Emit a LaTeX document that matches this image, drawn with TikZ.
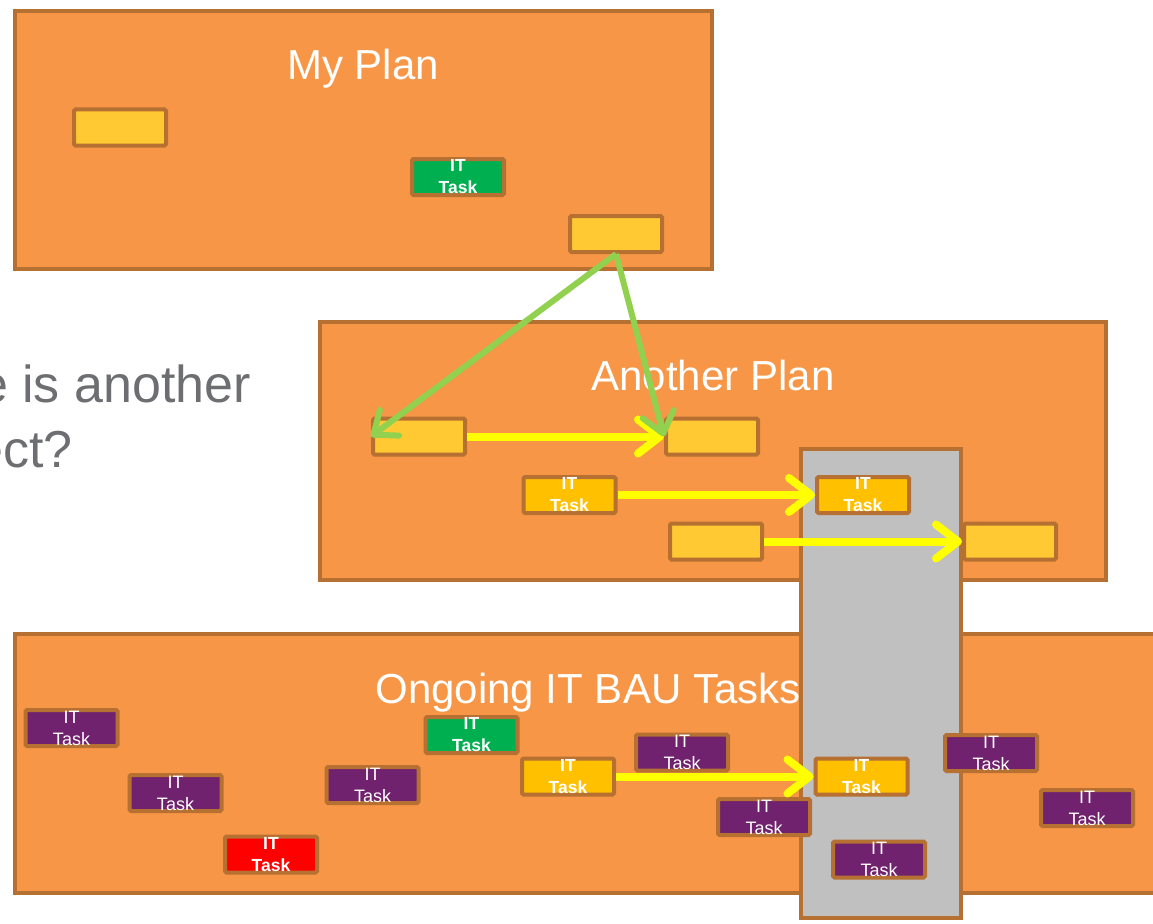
\documentclass[tikz,border=0pt]{standalone}
\usepackage{fontspec}
\setmainfont{Liberation Sans}
\usetikzlibrary{arrows.meta}
\definecolor{panel}{RGB}{247,150,70}
\definecolor{edge}{RGB}{182,112,50}
\definecolor{gold}{RGB}{255,201,51}
\definecolor{amber}{RGB}{255,192,0}
\definecolor{okgreen}{RGB}{0,176,80}
\definecolor{plum}{RGB}{112,34,110}
\definecolor{alert}{RGB}{255,0,0}
\definecolor{column}{RGB}{192,192,192}
\definecolor{link}{RGB}{146,208,80}
\definecolor{flow}{RGB}{255,255,0}
\definecolor{note}{RGB}{109,110,113}
\tikzset{
  panelbox/.style={draw=edge, fill=panel, line width=4pt, inner sep=0pt},
  paneltitle/.style={text=white, font=\fontsize{42}{50}\selectfont, inner sep=0pt, anchor=base},
  taskbox/.style={draw=edge, line width=4pt, rounded corners=1.5pt,
    minimum width=92pt, minimum height=36pt, inner sep=0pt,
    text=white, align=center, font=\fontsize{18}{22}\selectfont},
  plain/.style={taskbox, fill=gold},
  ittask/.style={taskbox, font=\fontsize{17.5}{22}\selectfont\bfseries},
  bau/.style={taskbox, fill=plum},
  flowarrow/.style={draw=flow, line width=8pt,
    -{Straight Barb[length=22pt, width=34pt, round]}},
  linkarrow/.style={draw=link, line width=6pt,
    -{Straight Barb[length=20pt, width=32pt, round]}},
}
\begin{document}
\begin{tikzpicture}[x=1pt, y=-1pt]
\useasboundingbox (0,0) rectangle (1153,923);

% question text, partly outside the page
\node[text=note, font=\fontsize{52}{64}\selectfont, anchor=base east, inner sep=0pt] (q1) at (251,402) {e is another};
\node[text=note, font=\fontsize{52}{64}\selectfont, anchor=base east, inner sep=0pt] (q2) at (73,467) {ect?};

% My Plan
\node[panelbox, minimum width=697pt, minimum height=258pt] (myplan) at (363.5,140) {};
\node[paneltitle] (myplanT) at (363,80) {My Plan};
\node[plain] (mpA) at (120,127.5) {};
\node[ittask, fill=okgreen] (mpIT) at (458,177) {IT\\Task};
\node[plain] (mpB) at (616,234) {};

% Another Plan
\node[panelbox, minimum width=786pt, minimum height=258pt] (another) at (713,451) {};
\node[paneltitle] (anotherT) at (713,390) {Another Plan};

% Ongoing IT BAU Tasks
\node[panelbox, minimum width=1160pt, minimum height=259pt] (bau) at (595,763.5) {};
\node[paneltitle] (bauT) at (588,703) {Ongoing IT BAU Tasks};

% shared column
\node[panelbox, fill=column, minimum width=160pt, minimum height=469pt] (col) at (881,683.5) {};

% tasks of Another Plan
\node[plain] (apA) at (419,436.5) {};
\node[plain] (apB) at (712,436.5) {};
\node[ittask, fill=amber] (apIT1) at (569.5,495) {IT\\Task};
\node[ittask, fill=amber] (apIT2) at (863,495) {IT\\Task};
\node[plain] (apC) at (716,541.5) {};
\node[plain] (apD) at (1010,541.5) {};

% BAU tasks
\node[bau] (b1) at (71.5,728) {IT\\Task};
\node[bau] (b2) at (175.5,793) {IT\\Task};
\node[ittask, fill=alert] (bR) at (271,854.5) {IT\\Task};
\node[bau] (b3) at (372.5,785) {IT\\Task};
\node[ittask, fill=okgreen] (bG) at (471.5,735) {IT\\Task};
\node[ittask, fill=amber] (bC) at (568,776.5) {IT\\Task};
\node[bau] (b4) at (682,752.5) {IT\\Task};
\node[bau] (b5) at (764,817) {IT\\Task};
\node[ittask, fill=amber] (bD) at (861.5,776.5) {IT\\Task};
\node[bau] (b6) at (879,859.5) {IT\\Task};
\node[bau] (b7) at (991,753) {IT\\Task};
\node[bau] (b8) at (1087,808) {IT\\Task};

% dependencies
\draw[flowarrow] (apA.east) -- (apB.west);
\draw[flowarrow] (apIT1.east) -- (apIT2.west);
\draw[flowarrow] (apC.east) -- (apD.west);
\draw[flowarrow] (bC.east) -- (bD.west);
\draw[linkarrow] (mpB.south) -- (apA.west);
\draw[linkarrow] (mpB.south) -- (apB.west);
\end{tikzpicture}
\end{document}
